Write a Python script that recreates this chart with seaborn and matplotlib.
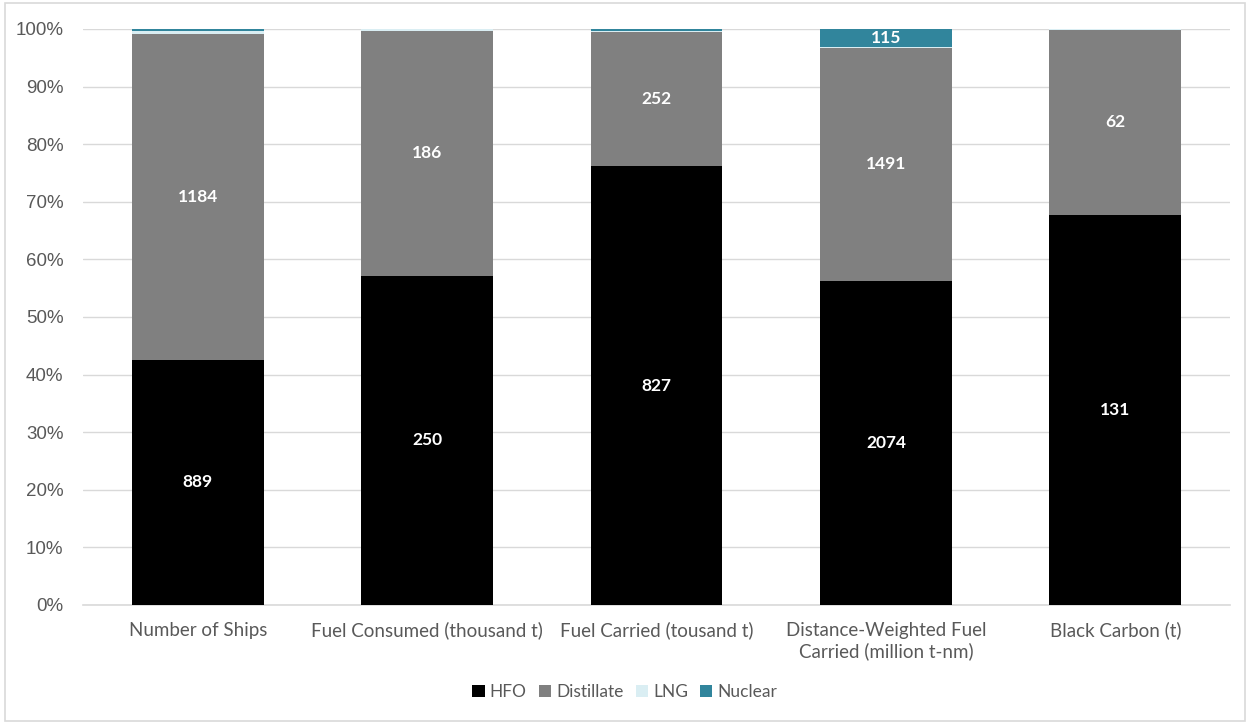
import numpy as np
import pandas as pd
import matplotlib
matplotlib.use("Agg")
import matplotlib.pyplot as plt
import seaborn as sns
from matplotlib.patches import Patch, Rectangle
from matplotlib.ticker import PercentFormatter

categories = ["Number of Ships", "Fuel Consumed (thousand t)", "Fuel Carried (tousand t)",
              "Distance-Weighted Fuel\nCarried (million t-nm)", "Black Carbon (t)"]
hfo = [889, 250, 827, 2074, 131]
distillate = [1184, 186, 252, 1491, 62]
lng = [11, 1.2, 2.5, 5, 0.4]
nuclear = [6, 0, 4, 115, 0]

series_names = ["HFO", "Distillate", "LNG", "Nuclear"]
colors = {"HFO": "#000000", "Distillate": "#808080", "LNG": "#DAEEF3", "Nuclear": "#31859C"}

sns.set_theme(style="white")
plt.rcParams["font.family"] = ["Lato", "DejaVu Sans"]

df = pd.DataFrame({"cat": categories, "HFO": hfo, "Distillate": distillate,
                   "LNG": lng, "Nuclear": nuclear})
tot = df[series_names].sum(axis=1)
pct = df[series_names].div(tot, axis=0) * 100
cum = pct.cumsum(axis=1)

fig = plt.figure(figsize=(12.5, 7.24), dpi=100)
ax = fig.add_axes([0.0664, 0.1644, 0.9176, 0.7956])

width = 0.575
for s in reversed(series_names):
    d = pd.DataFrame({"cat": categories, "val": cum[s].values})
    sns.barplot(data=d, x="cat", y="val", color=colors[s], width=width,
                edgecolor="none", linewidth=0, ax=ax, saturation=1, zorder=3)

for i in range(len(categories)):
    bottom = 0
    for s in series_names:
        p = pct[s].iloc[i]
        if p > 2.5:
            raw = df[s].iloc[i]
            ax.text(i, bottom + p / 2, f"{raw:.0f}", ha="center", va="center",
                    color="white", fontsize=12.5, fontweight="bold", zorder=5)
        bottom += p

ax.set_ylim(0, 100)
ax.set_xlim(-0.5, len(categories) - 0.5)
ax.yaxis.set_major_locator(matplotlib.ticker.MultipleLocator(10))
ax.yaxis.set_major_formatter(PercentFormatter(decimals=0))
ax.grid(axis="y", color="#D9D9D9", linewidth=1, zorder=0)
ax.set_axisbelow(True)
for sp in ["top", "right", "left"]:
    ax.spines[sp].set_visible(False)
ax.spines["bottom"].set_color("#D9D9D9")
ax.spines["bottom"].set_linewidth(1.2)
ax.set_xlabel("")
ax.set_ylabel("")
ax.tick_params(axis="y", length=0, pad=14, labelsize=13.5, labelcolor="#595959")
ax.tick_params(axis="x", length=0, pad=12, labelsize=13.5, labelcolor="#595959")
for lab in ax.get_yticklabels():
    lab.set_fontfamily(["Liberation Sans", "DejaVu Sans"])
for lab in ax.get_xticklabels():
    lab.set_linespacing(1.25)

handles = [Patch(facecolor=colors[s], edgecolor="none", label=s) for s in series_names]
fig.legend(handles=handles, loc="center", bbox_to_anchor=(0.5, 1 - 692 / 724), ncol=4,
           frameon=False, fontsize=12.5, handlelength=0.7, handleheight=0.7,
           handletextpad=0.3, columnspacing=0.7, labelcolor="#595959")

fig.patches.append(Rectangle((0.004, 0.004), 0.992, 0.992, transform=fig.transFigure,
                             fill=False, edgecolor="#D9D9D9", linewidth=1.2))

fig.savefig("out.png", dpi=100)
